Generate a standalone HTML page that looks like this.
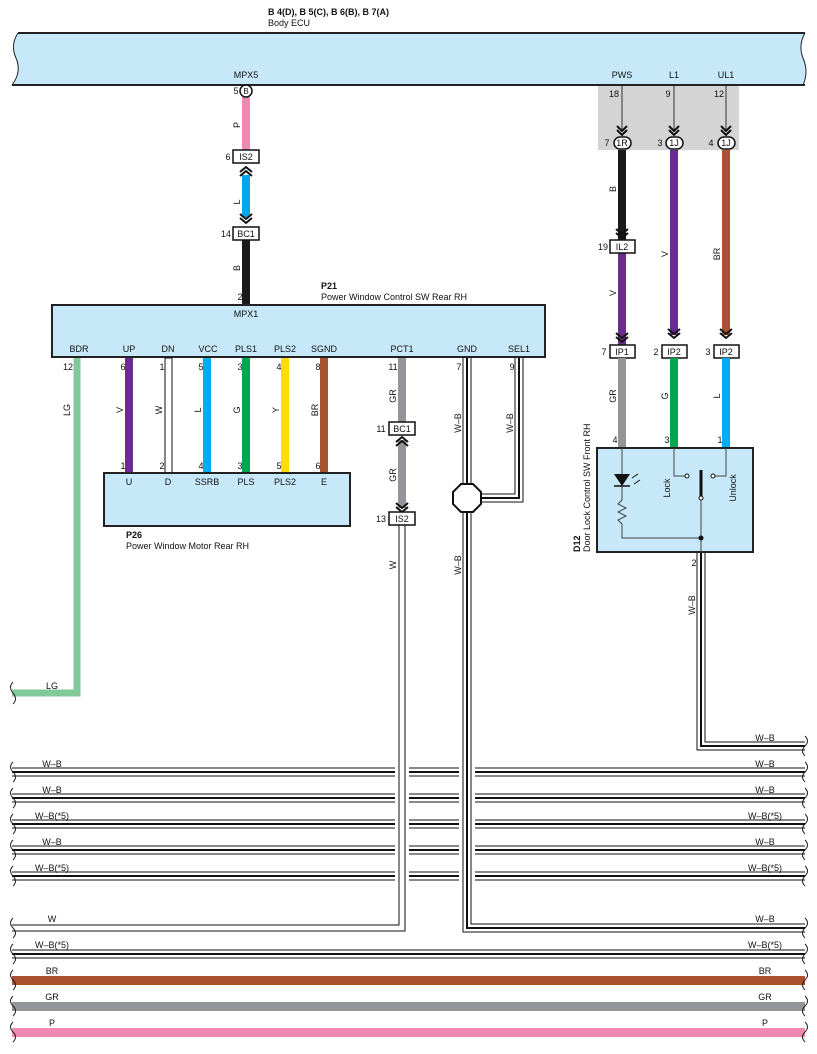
<!DOCTYPE html>
<html><head><meta charset="utf-8"><style>
html,body{margin:0;padding:0;background:#fff}
svg{display:block;font-family:"Liberation Sans",Arial,sans-serif}
text{font-size:9px;fill:#111}
.c{text-anchor:middle}
.b{font-weight:bold}
</style></head><body>
<svg width="817" height="1054" viewBox="0 0 817 1054" xmlns="http://www.w3.org/2000/svg">
<!-- title -->
<text x="268" y="15" class="b">B 4(D), B 5(C), B 6(B), B 7(A)</text>
<text x="268" y="26">Body ECU</text>
<!-- ECU -->
<path d="M18 33 L805 33 Q798 45 803 58 Q809 72 803 85 L12 85 Q22 72 16 58 Q10 45 18 33 Z" fill="#c6e8f8" stroke="none"/>
<line x1="18" y1="33" x2="805" y2="33" stroke="#222" stroke-width="2"/>
<line x1="12" y1="85" x2="805" y2="85" stroke="#222" stroke-width="2"/>
<path d="M18 33 Q10 45 16 58 Q22 72 12 85" fill="none" stroke="#222" stroke-width="1"/>
<path d="M805 33 Q798 45 803 58 Q809 72 803 85" fill="none" stroke="#222" stroke-width="1"/>
<text x="246" y="78" class="c">MPX5</text>
<text x="622" y="78" class="c">PWS</text>
<text x="674" y="78" class="c">L1</text>
<text x="726" y="78" class="c">UL1</text>
<!-- gray area -->
<rect x="598" y="86" width="141" height="64" fill="#d4d4d4"/>
<text x="614" y="97" class="c">18</text><text x="668" y="97" class="c">9</text><text x="719" y="97" class="c">12</text>
<g stroke="#333" stroke-width="1"><line x1="622" y1="86" x2="622" y2="130"/><line x1="674" y1="86" x2="674" y2="130"/><line x1="726" y1="86" x2="726" y2="130"/></g>
<g fill="none" stroke="#111" stroke-width="2"><path d="M617 126 l5 5 l5 -5 M617 130 l5 5 l5 -5"/><path d="M669 126 l5 5 l5 -5 M669 130 l5 5 l5 -5"/><path d="M721 126 l5 5 l5 -5 M721 130 l5 5 l5 -5"/></g>
<!-- left wires top -->
<rect x="242" y="97" width="8" height="53" fill="#f088b4"/>
<text transform="translate(240,125) rotate(-90)" class="c">P</text>
<circle cx="246" cy="91" r="6" fill="#fff" stroke="#111" stroke-width="1.5"/><text x="246" y="94" class="c" style="font-size:8px">B</text>
<text x="236" y="94" class="c">5</text>
<rect x="242" y="175" width="8" height="42" fill="#00a8e8"/>
<g fill="none" stroke="#111" stroke-width="2"><path d="M240 172 l6 -5 l6 5 M240 176 l6 -5 l6 5"/><path d="M240 214 l6 5 l6 -5 M240 218 l6 5 l6 -5"/></g>
<text transform="translate(240,202) rotate(-90)" class="c">L</text>
<rect x="233" y="150" width="26" height="13" fill="#fff" stroke="#111" stroke-width="1.5"/><text x="246" y="160" class="c">IS2</text><text x="228" y="160" class="c">6</text>
<rect x="242" y="240" width="8" height="65" fill="#1a1a1a"/>
<rect x="233" y="227" width="26" height="13" fill="#fff" stroke="#111" stroke-width="1.5"/><text x="246" y="237" class="c">BC1</text><text x="226" y="237" class="c">14</text>
<text transform="translate(240,268) rotate(-90)" class="c">B</text>
<text x="240" y="300" class="c">2</text>
<text x="321" y="289" class="b">P21</text>
<text x="321" y="300">Power Window Control SW Rear RH</text>
<!-- right wires -->
<rect x="618" y="150" width="8" height="90" fill="#1a1a1a"/>
<rect x="618" y="253" width="8" height="92" fill="#6a2d8f"/>
<rect x="670" y="150" width="8" height="185" fill="#6a2d8f"/>
<rect x="722" y="150" width="8" height="185" fill="#a9522f"/>
<g fill="none" stroke="#111" stroke-width="2"><path d="M616 229 l6 5 l6 -5 M616 233 l6 5 l6 -5"/><path d="M616 333 l6 5 l6 -5 M616 337 l6 5 l6 -5"/><path d="M668 329 l6 5 l6 -5 M668 333 l6 5 l6 -5"/><path d="M720 329 l6 5 l6 -5 M720 333 l6 5 l6 -5"/></g>
<g fill="#fff" stroke="#111" stroke-width="1.5"><rect x="614" y="137" width="17" height="12" rx="6"/><rect x="666" y="137" width="17" height="12" rx="6"/><rect x="718" y="137" width="17" height="12" rx="6"/></g>
<text x="622" y="146" class="c">1R</text><text x="674" y="146" class="c">1J</text><text x="726" y="146" class="c">1J</text>
<text x="607" y="146" class="c">7</text><text x="660" y="146" class="c">3</text><text x="711" y="146" class="c">4</text>
<text transform="translate(616,189) rotate(-90)" class="c">B</text>
<rect x="610" y="240" width="25" height="13" fill="#fff" stroke="#111" stroke-width="1.5"/><text x="622" y="250" class="c">IL2</text><text x="603" y="250" class="c">19</text>
<text transform="translate(616,293) rotate(-90)" class="c">V</text>
<text transform="translate(668,254) rotate(-90)" class="c">V</text>
<text transform="translate(720,254) rotate(-90)" class="c">BR</text>
<g fill="#fff" stroke="#111" stroke-width="1.5"><rect x="610" y="345" width="25" height="13"/><rect x="662" y="345" width="25" height="13"/><rect x="714" y="345" width="25" height="13"/></g>
<text x="622" y="355" class="c">IP1</text><text x="674" y="355" class="c">IP2</text><text x="726" y="355" class="c">IP2</text>
<text x="604" y="355" class="c">7</text><text x="656" y="355" class="c">2</text><text x="708" y="355" class="c">3</text>
<rect x="618" y="358" width="8" height="90" fill="#939598"/>
<rect x="670" y="358" width="8" height="90" fill="#00a650"/>
<rect x="722" y="358" width="8" height="90" fill="#00aeef"/>
<text transform="translate(616,396) rotate(-90)" class="c">GR</text>
<text transform="translate(668,396) rotate(-90)" class="c">G</text>
<text transform="translate(720,396) rotate(-90)" class="c">L</text>
<text x="615" y="443" class="c">4</text><text x="667" y="443" class="c">3</text><text x="720" y="443" class="c">1</text>
<!-- D12 -->
<rect x="597" y="448" width="156" height="104" fill="#c6e8f8" stroke="#222" stroke-width="2"/>
<g stroke="#444" stroke-width="1" fill="none">
<path d="M622 448 V500 l-4 4 l8 4 l-8 4 l8 4 l-8 4 l4 4 V538 H701"/>
<path d="M674 448 V476 H685"/><path d="M726 448 V476 H715"/>
<path d="M701 498 V552"/>
</g>
<path d="M614 474 h16 l-8 12 z" fill="#111"/><line x1="614" y1="486" x2="630" y2="486" stroke="#111" stroke-width="1.5"/>
<path d="M632 478 l6 -4 M634 484 l6 -4" stroke="#111" stroke-width="1"/>
<line x1="701" y1="470" x2="701" y2="497" stroke="#111" stroke-width="3"/>
<g fill="#fff" stroke="#111" stroke-width="1"><circle cx="687" cy="476" r="2"/><circle cx="713" cy="476" r="2"/><circle cx="701" cy="498" r="2"/></g>
<circle cx="701" cy="538" r="2.5" fill="#111"/>
<text transform="translate(670,488) rotate(-90)" class="c">Lock</text>
<text transform="translate(736,488) rotate(-90)" class="c">Unlock</text>
<text transform="translate(580,552) rotate(-90)" class="b">D12</text>
<text transform="translate(590,552) rotate(-90)">Door Lock Control SW Front RH</text>
<text x="694" y="566" class="c">2</text>
<!-- P21 box -->
<rect x="52" y="305" width="493" height="52" fill="#c6e8f8" stroke="#222" stroke-width="2"/>
<text x="246" y="317" class="c">MPX1</text>
<text x="79" y="352" class="c">BDR</text><text x="129" y="352" class="c">UP</text><text x="168" y="352" class="c">DN</text><text x="208" y="352" class="c">VCC</text><text x="246" y="352" class="c">PLS1</text><text x="285" y="352" class="c">PLS2</text><text x="324" y="352" class="c">SGND</text><text x="402" y="352" class="c">PCT1</text><text x="467" y="352" class="c">GND</text><text x="519" y="352" class="c">SEL1</text>
<!-- P21-P26 wires -->
<rect x="125" y="358" width="8" height="115" fill="#6a2d8f"/>
<rect x="165" y="358" width="7" height="115" fill="#fff" stroke="#111" stroke-width="1"/>
<rect x="203" y="358" width="8" height="115" fill="#00aeef"/>
<rect x="242" y="358" width="8" height="115" fill="#00a650"/>
<rect x="281" y="358" width="8" height="115" fill="#ffdd00"/>
<rect x="320" y="358" width="8" height="115" fill="#a9522f"/>
<text transform="translate(123,410) rotate(-90)" class="c">V</text>
<text transform="translate(162,410) rotate(-90)" class="c">W</text>
<text transform="translate(201,410) rotate(-90)" class="c">L</text>
<text transform="translate(240,410) rotate(-90)" class="c">G</text>
<text transform="translate(279,410) rotate(-90)" class="c">Y</text>
<text transform="translate(318,410) rotate(-90)" class="c">BR</text>
<text x="123" y="469" class="c">1</text><text x="162" y="469" class="c">2</text><text x="201" y="469" class="c">4</text><text x="240" y="469" class="c">3</text><text x="279" y="469" class="c">5</text><text x="318" y="469" class="c">6</text>
<rect x="104" y="473" width="246" height="53" fill="#c6e8f8" stroke="#222" stroke-width="2"/>
<text x="129" y="485" class="c">U</text><text x="168" y="485" class="c">D</text><text x="207" y="485" class="c">SSRB</text><text x="246" y="485" class="c">PLS</text><text x="285" y="485" class="c">PLS2</text><text x="324" y="485" class="c">E</text>
<text x="126" y="538" class="b">P26</text>
<text x="126" y="549">Power Window Motor Rear RH</text>
<!-- LG -->
<path d="M77 358 V693 H12" fill="none" stroke="#82c99a" stroke-width="7"/>
<text transform="translate(70,410) rotate(-90)" class="c">LG</text>
<text x="52" y="689" class="c">LG</text>
<path d="M13 682 q-5 5 0 11 q5 6 0 11" fill="none" stroke="#222"/>
<!-- horizontal bundles -->
<path d="M12 772 H805 M12 798 H805 M12 824 H805 M12 850 H805 M12 876 H805 M12 954 H805" stroke="#111" stroke-width="9" fill="none"/>
<path d="M12 772 H805 M12 798 H805 M12 824 H805 M12 850 H805 M12 876 H805 M12 954 H805" stroke="#fff" stroke-width="7" fill="none"/>
<path d="M12 772 H805 M12 798 H805 M12 824 H805 M12 850 H805 M12 876 H805 M12 954 H805" stroke="#111" stroke-width="2" fill="none"/>
<rect x="12" y="976" width="793" height="9" fill="#a9522f"/>
<rect x="12" y="1002" width="793" height="9" fill="#939598"/>
<rect x="12" y="1028" width="793" height="9" fill="#f088b4"/>
<!-- labels -->
<text x="52" y="767" class="c">W–B</text><text x="765" y="767" class="c">W–B</text>
<text x="52" y="793" class="c">W–B</text><text x="765" y="793" class="c">W–B</text>
<text x="52" y="819" class="c">W–B(*5)</text><text x="765" y="819" class="c">W–B(*5)</text>
<text x="52" y="845" class="c">W–B</text><text x="765" y="845" class="c">W–B</text>
<text x="52" y="871" class="c">W–B(*5)</text><text x="765" y="871" class="c">W–B(*5)</text>
<text x="52" y="922" class="c">W</text><text x="765" y="922" class="c">W–B</text>
<text x="52" y="948" class="c">W–B(*5)</text><text x="765" y="948" class="c">W–B(*5)</text>
<text x="52" y="974" class="c">BR</text><text x="765" y="974" class="c">BR</text>
<text x="52" y="1000" class="c">GR</text><text x="765" y="1000" class="c">GR</text>
<text x="52" y="1026" class="c">P</text><text x="765" y="1026" class="c">P</text>
<text x="765" y="741" class="c">W–B</text>
<!-- pin numbers -->
<text x="68" y="370" class="c">12</text><text x="123" y="370" class="c">6</text><text x="162" y="370" class="c">1</text><text x="201" y="370" class="c">5</text><text x="240" y="370" class="c">3</text><text x="279" y="370" class="c">4</text><text x="318" y="370" class="c">8</text><text x="393" y="370" class="c">11</text><text x="459" y="370" class="c">7</text><text x="512" y="370" class="c">9</text>
<!-- PCT1 chain -->
<rect x="398" y="358" width="8" height="64" fill="#939598"/>
<rect x="398" y="440" width="8" height="68" fill="#939598"/>
<g fill="none" stroke="#111" stroke-width="2"><path d="M396 442 l6 -5 l6 5 M396 446 l6 -5 l6 5"/><path d="M396 503 l6 5 l6 -5 M396 507 l6 5 l6 -5"/></g>
<text transform="translate(396,396) rotate(-90)" class="c">GR</text>
<text transform="translate(396,475) rotate(-90)" class="c">GR</text>
<rect x="389" y="422" width="26" height="13" fill="#fff" stroke="#111" stroke-width="1.5"/><text x="402" y="432" class="c">BC1</text><text x="381" y="432" class="c">11</text>
<!-- W vertical from IS2 -->
<path d="M402 760 V922" fill="none" stroke="#fff" stroke-width="14"/>
<path d="M402 525 V928 H12" fill="none" stroke="#111" stroke-width="7"/>
<path d="M402 525 V928 H12" fill="none" stroke="#fff" stroke-width="5"/>
<rect x="389" y="512" width="26" height="13" fill="#fff" stroke="#111" stroke-width="1.5"/><text x="402" y="522" class="c">IS2</text><text x="381" y="522" class="c">13</text>
<text transform="translate(396,565) rotate(-90)" class="c">W</text>
<!-- GND -->
<path d="M467 760 V922" fill="none" stroke="#fff" stroke-width="16"/>
<path d="M467 358 V928 H805" fill="none" stroke="#111" stroke-width="9"/>
<path d="M467 358 V928 H805" fill="none" stroke="#fff" stroke-width="7"/>
<path d="M467 358 V928 H805" fill="none" stroke="#111" stroke-width="2"/>
<path d="M519 358 V498 H475" fill="none" stroke="#111" stroke-width="9"/>
<path d="M519 358 V498 H475" fill="none" stroke="#fff" stroke-width="7"/>
<path d="M519 358 V498 H475" fill="none" stroke="#111" stroke-width="2"/>
<polygon points="461,484 473,484 481,492 481,504 473,512 461,512 453,504 453,492" fill="#fff" stroke="#111" stroke-width="2"/>
<text transform="translate(461,423) rotate(-90)" class="c">W–B</text>
<text transform="translate(513,423) rotate(-90)" class="c">W–B</text>
<text transform="translate(461,565) rotate(-90)" class="c">W–B</text>
<!-- D12 pin 2 -->
<path d="M701 553 V746 H805" fill="none" stroke="#111" stroke-width="9"/>
<path d="M701 553 V746 H805" fill="none" stroke="#fff" stroke-width="7"/>
<path d="M701 553 V746 H805" fill="none" stroke="#111" stroke-width="2"/>
<text transform="translate(695,605) rotate(-90)" class="c">W–B</text>
<!-- wavy ends -->
<g fill="none" stroke="#222" stroke-width="1">
<path d="M13 762 q-5 5 0 10 q5 5 0 10"/><path d="M13 788 q-5 5 0 10 q5 5 0 10"/><path d="M13 814 q-5 5 0 10 q5 5 0 10"/><path d="M13 840 q-5 5 0 10 q5 5 0 10"/><path d="M13 866 q-5 5 0 10 q5 5 0 10"/><path d="M13 918 q-5 5 0 10 q5 5 0 10"/><path d="M13 944 q-5 5 0 10 q5 5 0 10"/><path d="M13 970 q-5 5 0 10 q5 5 0 10"/><path d="M13 996 q-5 5 0 10 q5 5 0 10"/><path d="M13 1022 q-5 5 0 10 q5 5 0 10"/>
<path d="M805 736 q5 5 0 10 q-5 5 0 10"/><path d="M805 762 q5 5 0 10 q-5 5 0 10"/><path d="M805 788 q5 5 0 10 q-5 5 0 10"/><path d="M805 814 q5 5 0 10 q-5 5 0 10"/><path d="M805 840 q5 5 0 10 q-5 5 0 10"/><path d="M805 866 q5 5 0 10 q-5 5 0 10"/><path d="M805 918 q5 5 0 10 q-5 5 0 10"/><path d="M805 944 q5 5 0 10 q-5 5 0 10"/><path d="M805 970 q5 5 0 10 q-5 5 0 10"/><path d="M805 996 q5 5 0 10 q-5 5 0 10"/><path d="M805 1022 q5 5 0 10 q-5 5 0 10"/>
</g>
</svg>
</body></html>
